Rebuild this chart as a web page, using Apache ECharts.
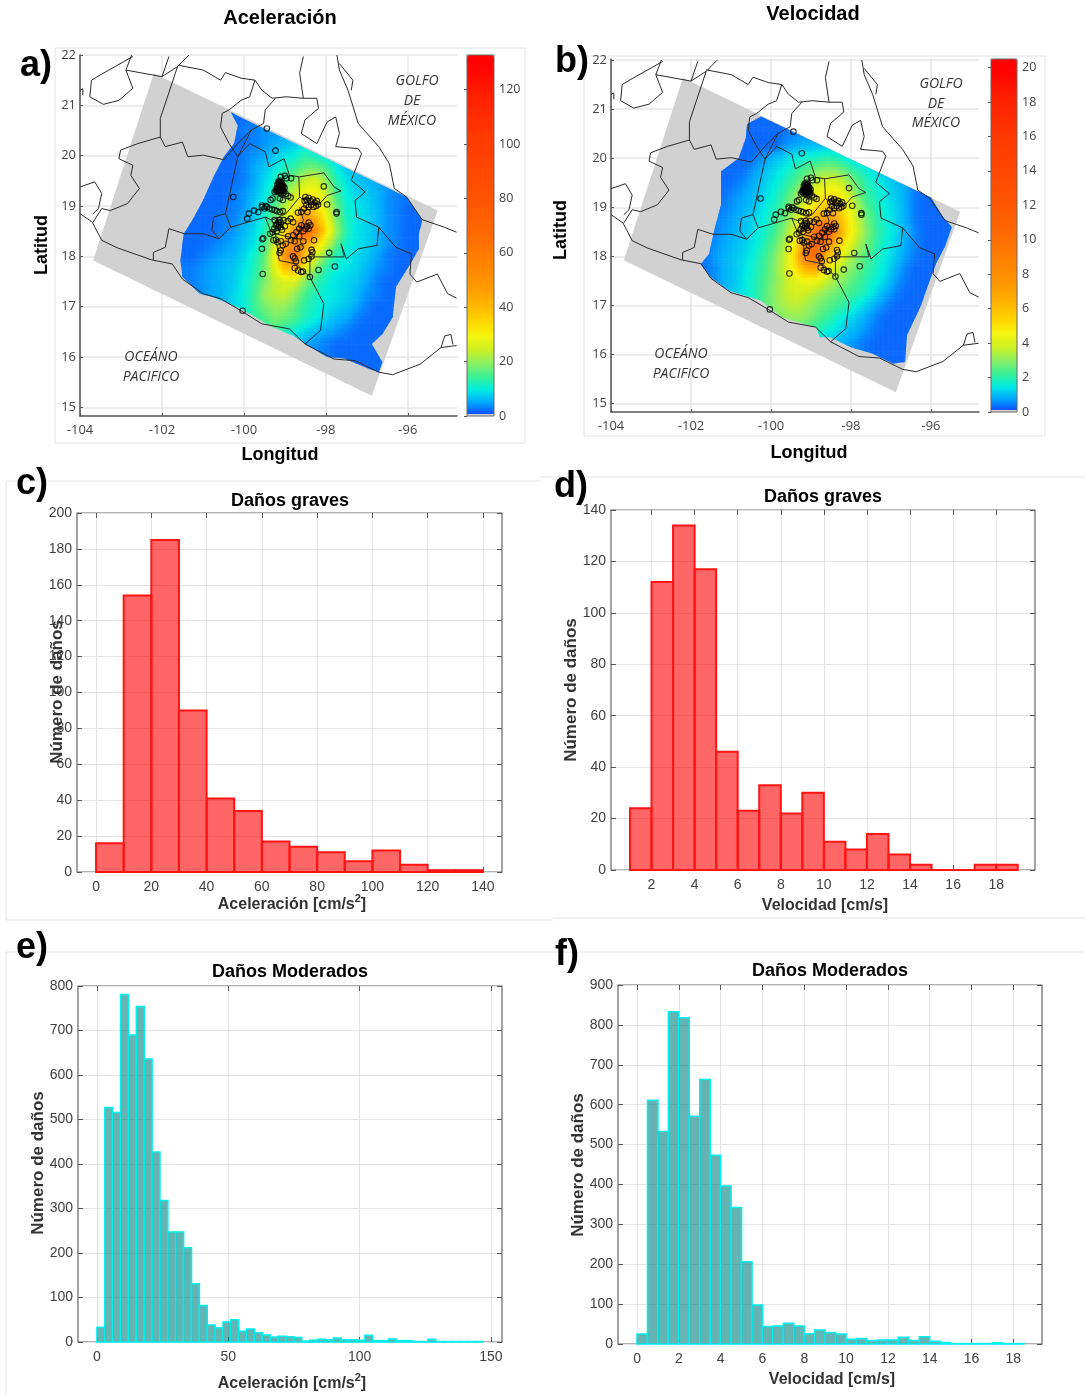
<!DOCTYPE html>
<html><head><meta charset="utf-8">
<style>html,body{margin:0;padding:0;background:#fff}#c{width:1085px;height:1395px}</style>
<script src="https://cdn.jsdelivr.net/npm/echarts@6/dist/echarts.min.js"></script>
</head><body><div id="c"></div>
<script>
// ---------- histogram data ----------
const graveAccStart = 0, graveAccWidth = 10;
const graveAcc = [16,154,185,90,41,34,17,14,11,6,12,4,1,1];
const graveVelStart = 1, graveVelWidth = 1;
const graveVel = [24,112,134,117,46,23,33,22,30,11,8,14,6,2,0,0,2,2];
const modAccStart = 0, modAccWidth = 3;
const modAcc = [33,527,516,781,690,754,636,427,318,247,247,212,131,82,38,32,45,50,24,29,21,16,11,13,12,10,2,4,6,5,9,5,5,4,15,3,3,7,3,3,1,1,6,1,1,1,1,1,1];
const modVelStart = 0, modVelWidth = 0.5;
const modVel = [25,611,533,833,818,571,663,473,396,342,206,98,44,45,52,45,26,35,29,25,12,14,9,10,10,17,9,18,7,4,1,1,1,1,3,1,1];
// ---------- tick labels ----------
const ticksLon = [-104,-102,-100,-98,-96];
const ticksLat = [15,16,17,18,19,20,21,22];
const ticksCbA = [0,20,40,60,80,100,120];
const ticksCbV = [0,2,4,6,8,10,12,14,16,18,20];
const ticksGraveAccX = [0,20,40,60,80,100,120,140];
const ticksGraveAccY = [0,20,40,60,80,100,120,140,160,180,200];
const ticksGraveVelX = [2,4,6,8,10,12,14,16,18];
const ticksGraveVelY = [0,20,40,60,80,100,120,140];
const ticksModAccX = [0,50,100,150];
const ticksModAccY = [0,100,200,300,400,500,600,700,800];
const ticksModVelX = [0,2,4,6,8,10,12,14,16,18];
const ticksModVelY = [0,100,200,300,400,500,600,700,800,900];
// ---------- map data (lon, lat) ----------
const swath = [[-102.2,21.64],[-95.27,18.91],[-96.88,15.23],[-103.68,17.92]];
const shakeAreaA = [[-100.15,20.79],[-96.03,19.18],[-95.65,18.72],[-95.73,18.45],[-95.73,18.15],[-95.94,17.85],[-96.29,17.39],[-96.37,16.79],[-96.62,16.46],[-96.88,16.26],[-96.62,15.9],[-96.71,15.7],[-96.96,15.77],[-97.55,15.97],[-97.97,16.0],[-98.51,16.26],[-98.8,16.43],[-99.31,16.6],[-100.07,16.96],[-100.74,17.19],[-101.08,17.26],[-101.5,17.59],[-101.55,17.92],[-101.47,18.45],[-101.26,18.72],[-101.0,19.11],[-100.74,19.58],[-100.49,19.98],[-100.24,20.24],[-100.15,20.6],[-100.32,20.87]];
const shakeAreaV = [[-100.25,20.85],[-96.0,19.2],[-95.7,18.8],[-95.48,18.6],[-95.65,18.2],[-95.87,17.86],[-96.08,17.4],[-96.25,17.0],[-96.6,16.4],[-96.65,15.85],[-96.95,15.82],[-97.47,16.02],[-98.0,16.15],[-98.52,16.35],[-98.78,16.35],[-98.87,16.55],[-99.73,16.76],[-100.25,17.1],[-101.05,17.3],[-101.5,17.57],[-101.76,17.84],[-101.55,18.05],[-101.42,18.53],[-101.25,19.05],[-101.25,19.73],[-100.81,20.0],[-100.63,20.41],[-100.6,20.69]];
const latRows = [20.75,20.5,20.25,20,19.75,19.5,19.25,19,18.75,18.5,18.25,18,17.75,17.5,17.25,17,16.75,16.5,16.25,16,15.75];
const lonColsA = [-102,-101.75,-101.5,-101.25,-101,-100.75,-100.5,-100.25,-100,-99.75,-99.5,-99.25,-99,-98.75,-98.5,-98.25,-98,-97.75,-97.5,-97.25,-97,-96.75,-96.5,-96.25,-96,-95.75,-95.5];
const lonColsV = [-101.875,-101.625,-101.375,-101.125,-100.875,-100.625,-100.375,-100.125,-99.875,-99.625,-99.375,-99.125,-98.875,-98.625,-98.375,-98.125,-97.875,-97.625,-97.375,-97.125,-96.875,-96.625,-96.375,-96.125,-95.875,-95.625,-95.375];
const accField = [
[2,2,2,2,2,2,2,2,2,3,3,3,3,3,3,3,3,3,3,3,3,3,3,3,3,3,3],
[2,2,2,2,2,2,2,2,3,3,4,4,4,5,5,5,5,5,5,5,5,5,5,5,5,5,5],
[2,2,2,2,2,2,2,2,2,3,4,5,6,7,8,8,7,7,7,7,7,6,6,6,6,6,6],
[2,2,2,2,2,2,2,2,3,4,5,7,9,10,13,11,9,8,7,7,6,6,5,5,5,5,5],
[2,2,2,2,2,2,2,2,3,5,7,9,12,14,17,18,15,10,7,6,5,4,4,3,3,3,3],
[2,2,2,2,2,2,2,2,3,5,8,11,15,19,24,26,20,13,9,7,6,5,4,3,3,3,3],
[2,2,2,2,2,2,2,3,4,6,9,13,19,24,30,30,24,15,10,8,7,6,4,3,3,2,2],
[2,2,2,2,2,2,2,3,4,7,10,15,22,28,36,34,26,17,11,9,8,6,4,3,2,2,2],
[2,2,2,2,2,2,3,3,5,7,11,17,26,34,48,42,30,19,12,9,8,6,4,3,2,2,2],
[2,2,2,2,2,2,3,4,6,8,12,19,32,50,72,52,34,21,13,9,8,6,4,3,2,2,2],
[2,2,2,2,2,3,4,5,7,9,14,24,42,55,44,36,26,17,11,9,8,6,4,3,2,2,2],
[2,2,2,2,3,4,5,6,8,11,16,28,50,62,38,26,18,12,10,8,7,5,3,2,2,2,2],
[2,2,3,3,4,5,6,7,9,12,17,26,38,40,28,19,13,10,9,8,6,4,3,2,2,2,2],
[2,2,3,3,4,5,6,7,10,13,18,23,26,26,19,14,11,9,8,7,5,3,2,2,2,2,2],
[2,3,3,3,4,5,6,8,10,14,20,23,24,20,15,12,10,9,8,6,4,3,2,2,2,2,2],
[2,3,3,3,4,5,6,8,10,14,18,20,20,17,13,11,9,8,7,5,3,2,2,2,2,2,2],
[2,3,3,3,4,5,6,8,10,13,15,18,17,15,12,10,8,6,5,3,2,2,2,2,2,2,2],
[2,3,3,3,4,5,6,8,9,10,12,14,12,10,8,6,5,4,3,2,2,2,2,2,2,2,2],
[2,3,3,3,4,5,6,6,8,9,9,8,7,6,5,4,3,2,2,2,2,2,2,2,2,2,2],
[2,3,3,3,3,4,5,5,6,6,6,5,5,4,4,3,3,2,2,2,2,2,2,2,2,2,2],
[2,2,2,2,2,2,2,2,2,2,2,2,2,2,2,2,2,2,2,2,2,2,2,2,2,2,2]];
const velField = [
[.3,.3,.3,.3,.3,.3,.3,.3,.3,.3,.3,.3,.3,.3,.3,.3,.3,.3,.3,.3,.3,.3,.3,.3,.3,.3,.3],
[.3,.3,.3,.3,.3,.3,.3,.3,.3,.4,.5,.6,.6,.6,.6,.6,.6,.6,.6,.6,.6,.6,.6,.6,.6,.6,.6],
[.3,.3,.3,.3,.3,.3,.3,.3,.3,.6,.8,.9,1,1,1,1,1,1,1,1,1,1,1,1,1,1,1],
[.3,.3,.3,.3,.3,.3,.4,.7,1,1.2,1.5,1.7,1.8,2,1.9,1.5,1.2,1,1,.9,.9,.8,.8,.8,.8,.8,.8],
[.3,.3,.3,.3,.3,.4,.7,1,1.3,1.6,2,2.4,2.8,3,3,2.5,2,1.6,1.3,1,.8,.7,.6,.5,.5,.5,.5],
[.3,.3,.3,.3,.4,.6,.9,1.2,1.5,1.9,2.4,3,3.5,4,4,3.4,2.6,2,1.6,1.3,1,.8,.4,.3,.3,.3,.3],
[.3,.3,.3,.4,.6,.8,1,1.3,1.7,2.2,3,3.8,4.5,5,5,4.2,3,2.2,1.8,1.4,1.1,.8,.4,.3,.3,.3,.3],
[.3,.3,.4,.5,.7,.9,1.1,1.5,1.9,2.5,3.3,4.3,5.2,5.6,5.6,4.8,3.5,2.5,1.9,1.5,1.2,.8,.4,.3,.3,.3,.3],
[.3,.3,.5,.6,.8,1,1.3,1.6,2.1,2.8,3.7,5,6.5,7.5,6.8,5.2,3.9,2.8,2.1,1.6,1.2,.8,.4,.3,.3,.3,.3],
[.3,.4,.5,.7,.9,1.1,1.4,1.8,2.3,3.1,4.2,6,10,12.5,8,5.5,4,3,2.2,1.7,1.3,.9,.5,.3,.3,.3,.3],
[.3,.4,.6,.8,1,1.2,1.5,2,2.6,3.5,5,7.5,10.5,8.5,6,4.8,3.6,2.8,2.1,1.6,1.2,.8,.5,.3,.3,.3,.3],
[.3,.4,.7,.9,1.1,1.3,1.7,2.2,2.9,3.8,5.5,9,10.5,6.5,4.8,3.8,3,2.4,1.9,1.5,1.1,.7,.4,.3,.3,.3,.3],
[.3,.4,.6,.9,1.1,1.4,1.8,2.3,3,3.9,5,6.5,7,5,3.9,3.2,2.7,2.2,1.8,1.4,.9,.5,.3,.3,.3,.3,.3],
[.3,.4,.6,.9,1.1,1.5,1.9,2.4,3,3.6,4.2,4.5,4.4,3.8,3.2,2.8,2.4,2,1.6,1.2,.7,.4,.3,.3,.3,.3,.3],
[.3,.4,.6,.9,1.2,1.5,1.9,2.5,3.1,3.6,3.9,3.8,3.4,3,2.7,2.4,2.1,1.8,1.3,.8,.5,.3,.3,.3,.3,.3,.3],
[.3,.4,.6,.9,1.2,1.5,1.9,2.5,3,3.4,3.6,3.3,2.9,2.6,2.3,2,1.6,1.2,.8,.5,.3,.3,.3,.3,.3,.3,.3],
[.3,.4,.6,.9,1.2,1.5,1.9,2.4,2.8,3,3.1,3,2.6,2.2,1.8,1.4,1.1,.8,.5,.3,.3,.3,.3,.3,.3,.3,.3],
[.3,.4,.6,.9,1.2,1.5,1.8,2.2,2.4,2.6,2.5,2.3,2,1.7,1.4,1.1,.9,.6,.4,.3,.3,.3,.3,.3,.3,.3,.3],
[.3,.4,.6,.9,1.1,1.3,1.5,1.7,1.8,1.8,1.7,1.5,1.3,1.1,1,.8,.6,.4,.3,.3,.3,.3,.3,.3,.3,.3,.3],
[.3,.4,.5,.7,.8,.9,1,1,1,1,1,.9,.8,.8,.7,.6,.5,.4,.3,.3,.3,.3,.3,.3,.3,.3,.3],
[.3,.3,.3,.3,.3,.3,.3,.3,.3,.3,.3,.3,.3,.3,.3,.3,.3,.3,.3,.3,.3,.3,.3,.3,.3,.3,.3]];
const stations = [[-99.44,20.54],[-99.23,20.1],[-100.26,19.18],[-98.05,19.39],[-97.74,18.85],[-97.74,18.88],[-97.78,17.8],[-98.18,17.73],[-97.92,18.07],[-99.54,17.65],[-99.56,18.15],[-99.55,18.34],[-99.53,18.36],[-98.39,17.59],[-100.03,16.92],[-97.97,19.03],[-98.29,18.32],
[-99.92,18.75],[-99.88,18.85],[-99.75,18.91],[-99.65,18.88],[-99.56,19.01],[-99.5,18.95],[-99.44,18.98],[-99.38,18.95],[-99.31,18.93],[-99.25,18.92],[-99.2,18.9],[-99.12,18.88],[-99.05,18.9],[-99.55,18.98],[-99.47,19.0],
[-99.18,19.43],[-99.14,19.45],[-99.1,19.47],[-99.07,19.42],[-99.15,19.38],[-99.2,19.35],[-99.12,19.36],[-99.09,19.37],[-99.05,19.34],[-99.16,19.32],[-99.11,19.31],[-99.07,19.29],[-99.02,19.3],[-99.13,19.27],[-99.09,19.24],[-99.22,19.31],[-99.25,19.28],[-99.18,19.28],[-99.14,19.41],[-99.1,19.41],[-99.06,19.38],[-99.16,19.35],[-99.13,19.33],[-99.1,19.34],[-99.07,19.32],[-99.19,19.31],[-99.04,19.26],[-98.98,19.24],[-98.92,19.2],[-98.86,19.17],[-99.0,19.6],[-98.96,19.55],[-99.1,19.58],[-98.85,19.55],[-99.3,19.15],[-99.35,19.12],[-99.12,19.15],[-99.05,19.12],[-99.16,19.48],[-99.12,19.5],[-99.08,19.46],[-99.04,19.4],[-99.01,19.36],
[-98.5,19.18],[-98.47,19.12],[-98.42,19.16],[-98.37,19.1],[-98.32,19.13],[-98.27,19.07],[-98.22,19.1],[-98.19,19.03],[-98.24,19.0],[-98.3,18.98],[-98.36,19.02],[-98.42,18.98],[-98.48,19.02],[-98.53,18.95],[-98.6,18.88],[-98.68,18.87],[-98.45,18.88],[-98.52,19.1],
[-99.13,18.72],[-99.16,18.68],[-99.19,18.64],[-99.14,18.62],[-99.1,18.58],[-99.17,18.57],[-99.22,18.62],[-99.26,18.55],[-99.3,18.48],[-99.2,18.5],[-99.07,18.53],[-99.0,18.6],[-98.93,18.7],[-98.86,18.75],[-98.8,18.68],[-99.03,18.72],[-99.1,18.67],[-99.25,18.72],[-99.36,18.45],
[-98.42,18.67],[-98.38,18.62],[-98.46,18.6],[-98.5,18.55],[-98.42,18.55],[-98.55,18.5],[-98.6,18.62],[-98.65,18.55],[-98.72,18.48],[-98.8,18.42],[-98.65,18.4],[-98.55,18.3],[-98.76,18.3],[-98.85,18.32],[-98.92,18.4],[-98.98,18.25],[-99.05,18.22],[-99.1,18.3],[-99.22,18.33],[-99.18,18.28],[-99.28,18.32],[-99.13,18.07],[-99.1,18.12],
[-98.8,18.0],[-98.76,17.96],[-98.73,17.9],[-98.76,17.77],[-98.68,17.72],[-98.56,17.7],[-98.6,17.69],[-98.53,17.92],[-98.42,17.95],[-98.35,18.0],[-98.33,18.08],[-98.35,18.13],[-98.7,18.15],[-98.62,18.18]];
const borders = [
[[-102.71,21.97],[-103.47,21.62],[-103.72,21.5],[-103.76,21.17],[-103.43,21.02],[-103.05,21.1],[-102.71,21.34],[-102.88,21.7],[-102.74,22]],
[[-102.88,21.7],[-102,21.57],[-101.83,21.97]],
[[-102,21.57],[-101.62,21.77],[-101.34,22]],
[[-101.62,21.8],[-100.99,21.7],[-100.57,21.5],[-100.45,21.65],[-100.07,21.54],[-99.73,21.5],[-99.56,21.3],[-99.31,21.14],[-98.97,21.17],[-98.55,21.14],[-98.22,21.14],[-98.18,20.94],[-98.51,20.71],[-98.6,20.44],[-98.22,20.24],[-97.97,20.67],[-97.76,20.77],[-97.67,20.44],[-97.76,20.18],[-97.21,20.14],[-97.13,20.04],[-97.38,19.51],[-97.04,19.28],[-97.29,19.11],[-97.25,18.78],[-96.71,18.58],[-96.29,18.18],[-95.91,18.05],[-95.95,17.65],[-95.78,17.49],[-95.28,17.65],[-95.03,17.26],[-94.81,17.17]],
[[-98.55,21.97],[-98.64,21.64],[-98.55,21.14]],
[[-99.23,21.14],[-99.48,20.91],[-99.52,20.64],[-99.82,20.51],[-100.15,19.98],[-100.45,18.85],[-100.74,18.78],[-100.78,18.52],[-100.61,18.35],[-100.99,18.45],[-101.45,18.45],[-101.83,18.55],[-101.92,18.18],[-102.21,18.08],[-102.21,17.93]],
[[-100.15,19.98],[-100.36,20.24],[-100.57,20.57],[-100.53,20.84],[-100.36,20.91],[-100.07,21.1],[-99.86,21.17],[-99.73,21.5]],
[[-101.62,21.77],[-102.04,20.74],[-102.04,20.37],[-101.92,20.18],[-101.5,20.27],[-101.37,19.98],[-100.99,20.01],[-100.49,19.92],[-100.15,20.24],[-99.82,20.51]],
[[-102.04,20.37],[-102.59,20.24],[-103.01,20.11],[-103.05,19.94],[-102.71,19.81],[-102.76,19.61],[-102.55,19.35],[-102.84,19.05],[-103.26,18.91],[-103.47,18.95],[-103.68,18.68]],
[[-104,19.38],[-103.64,19.48],[-103.47,19.25],[-103.55,18.95],[-103.68,18.85]],
[[-100.15,19.98],[-99.86,20.24],[-99.48,20.08],[-99.39,19.78],[-99.02,19.94],[-98.89,19.61],[-98.64,19.58],[-98.05,19.66],[-97.8,19.38],[-97.63,19.3],[-97.97,19.21],[-98.18,19.02],[-98.43,19.05],[-98.64,19.18],[-98.66,19.58]],
[[-100.45,18.85],[-100.32,18.58],[-99.9,18.68],[-99.48,18.78],[-99.31,18.72],[-98.97,18.85],[-98.64,19.18]],
[[-99.48,18.78],[-99.35,18.51],[-99.23,18.45],[-98.72,18.35],[-98.55,18.72],[-98.64,18.98]],
[[-100.61,18.35],[-100.32,18.58]],
[[-99.23,18.45],[-99.14,17.92],[-98.72,17.85],[-98.39,17.59],[-98.05,17.06],[-98.13,16.53],[-98.51,16.26]],
[[-98.39,17.59],[-98.39,17.99],[-97.55,17.99],[-97.63,18.25],[-97.5,17.95],[-97.21,18.15],[-96.75,18.22],[-96.71,18.58]],
[[-104,21.3],[-103.93,21.33],[-103.93,21.2]],
[[-104,18.85],[-103.7,18.68],[-103.47,18.32],[-103.09,18.17],[-102.25,17.93],[-101.75,17.85],[-101.5,17.55],[-101,17.26],[-100.57,17.16],[-100.07,16.92],[-99.56,16.66],[-98.89,16.56],[-98.51,16.26],[-97.8,15.96],[-97.29,15.93],[-96.71,15.7],[-96.37,15.65],[-95.7,15.86],[-95.19,16.19],[-94.81,16.23]],
[[-97.73,22],[-97.67,21.7],[-97.46,21.3],[-97.21,20.64],[-96.71,20.18],[-96.45,19.84],[-96.33,19.35],[-96.03,19.18],[-95.65,18.73],[-95.11,18.58],[-94.81,18.48]],
[[-97.67,21.83],[-97.34,21.5],[-97.38,21.3]],
[[-95.19,16.19],[-95.1,16.42],[-94.95,16.45],[-94.9,16.25]]
];
const jet = ['#1040ff','#00a8ff','#00f0e0','#40f090','#90f060','#d0f020','#f5f510','#ffd800','#ffbe00','#ffa600','#ff9400','#ff8800','#ff7c00','#ff7000','#ff6600','#ff5e00','#ff5600','#ff5000','#ff4a00','#ff4400','#ff3e00','#ff3800','#ff3000','#ff2800','#ff2000','#ff1200','#ff0400','#ff0000'];

// ---------- layout ----------
const SANS = '"Liberation Sans",Arial,sans-serif', OPEN = '"Open Sans",sans-serif';
const maps = [
 {box:[80,55,457,416], lim:[-104,-94.8,14.83,22], cb:[467,55,494,416], cbMax:132.7, cbTicks:ticksCbA, field:accField, lons:lonColsA, area:shakeAreaA},
 {box:[611,59,979,412], lim:[-104,-94.8,14.83,22.02], cb:[991,59,1017,412], cbMax:20.5, cbTicks:ticksCbV, field:velField, lons:lonColsV, area:shakeAreaV}
];
const hists = [
 {box:[77,513,502,872], xlim:[-6.9,146.9], ylim:[0,200], xt:ticksGraveAccX, yt:ticksGraveAccY, vals:graveAcc, s:graveAccStart, w:graveAccWidth, fill:'rgba(255,0,0,0.6)', edge:'#ff1414', lw:2},
 {box:[611,510,1035,870], xlim:[0.12,19.8], ylim:[0,140], xt:ticksGraveVelX, yt:ticksGraveVelY, vals:graveVel, s:graveVelStart, w:graveVelWidth, fill:'rgba(255,0,0,0.6)', edge:'#ff1414', lw:2},
 {box:[78,986,502,1342], xlim:[-7.2,154.2], ylim:[0,800], xt:ticksModAccX, yt:ticksModAccY, vals:modAcc, s:modAccStart, w:modAccWidth, fill:'rgba(0,128,128,0.6)', edge:'#00eeee', lw:1.5},
 {box:[618,985,1042,1344], xlim:[-0.91,19.37], ylim:[0,900], xt:ticksModVelX, yt:ticksModVelY, vals:modVel, s:modVelStart, w:modVelWidth, fill:'rgba(0,128,128,0.6)', edge:'#00eeee', lw:1.5}
];
const grids=[], xAxes=[], yAxes=[], series=[], visualMaps=[];
function gridOf(b, extra){ grids.push(Object.assign({left:b[0],top:b[1],width:b[2]-b[0],height:b[3]-b[1],containLabel:false},extra||{})); return grids.length-1; }
const lbl = (fs,col,fam)=>({show:true,fontSize:fs,color:col,fontFamily:fam,hideOverlap:false});
// display shading (like MATLAB "shading interp"): blends the table values across a cell when it is painted
function shade(m,lon,lat){
  const n=m.lons.length-1, k=latRows.length-1;
  const fx=Math.max(0,Math.min(n,(lon-m.lons[0])/0.25)), fy=Math.max(0,Math.min(k,(latRows[0]-lat)/0.25));
  const i=Math.min(n-1,Math.floor(fx)), j=Math.min(k-1,Math.floor(fy)), u=fx-i, v=fy-j, F=m.field;
  return (F[j][i]*(1-u)+F[j][i+1]*u)*(1-v)+(F[j+1][i]*(1-u)+F[j+1][i+1]*u)*v;
}
const SUB=4;

maps.forEach((m,mi)=>{
  const g = gridOf(m.box);
  const xi = xAxes.length, yi = yAxes.length;
  xAxes.push({type:'value',gridIndex:g,min:m.lim[0],max:m.lim[1],position:'bottom',
    axisLine:{show:true,onZero:false,lineStyle:{color:'#555',width:1.5}},
    axisTick:{show:true,inside:true,length:3,customValues:ticksLon,lineStyle:{color:'#555'}},
    axisLabel:Object.assign(lbl(13,'#444',OPEN),{customValues:ticksLon,margin:8}),
    splitLine:{show:true,lineStyle:{color:'#e6e6e6',width:1.5}}});
  yAxes.push({type:'value',gridIndex:g,min:m.lim[2],max:m.lim[3],
    axisLine:{show:true,onZero:false,lineStyle:{color:'#555',width:1.5}},
    axisTick:{show:true,inside:true,length:3,customValues:ticksLat,lineStyle:{color:'#555'}},
    axisLabel:Object.assign(lbl(13,'#444',OPEN),{customValues:ticksLat,margin:4}),
    splitLine:{show:true,lineStyle:{color:'#e6e6e6',width:1.5}}});
  series.push({type:'custom',xAxisIndex:xi,yAxisIndex:yi,z:2,silent:true,data:swath,clip:true,
    renderItem:(p,api)=> p.dataIndex===0 ? {type:'polygon',shape:{points:swath.map(c=>api.coord(c))},style:{fill:'#d1d1d1'}} : null});
  const cells=[];
  m.field.forEach((row,r)=>row.forEach((v,c)=>cells.push([m.lons[c],latRows[r],v])));
  const cellSeries = series.length;
  series.push({type:'custom',xAxisIndex:xi,yAxisIndex:yi,z:3,silent:true,data:cells,clip:true,encode:{x:0,y:1},
    renderItem:(p,api)=>{
      const lo=api.value(0), la=api.value(1), kids=[], st=0.25/SUB;
      for(let a=0;a<SUB;a++)for(let b=0;b<SUB;b++){
        const x0=lo-.125+a*st, y0=la+.125-b*st;
        const A=api.coord([x0,y0]), B=api.coord([x0+st,y0-st]);
        const f=Math.min(1,shade(m,x0+st/2,y0-st/2)/m.cbMax);
        kids.push({type:'rect',shape:{x:A[0]-.3,y:A[1]-.3,width:B[0]-A[0]+.6,height:B[1]-A[1]+.6},style:{fill:echarts.color.lerp(f,jet)}});
      }
      return {type:'group',children:kids,clipPath:{type:'polygon',shape:{points:m.area.map(q=>api.coord(q))}}};
    }});
  borders.forEach(b=>series.push({type:'line',xAxisIndex:xi,yAxisIndex:yi,z:4,silent:true,data:b,symbol:'none',animation:false,
    lineStyle:{color:'#2a2a2a',width:1},clip:true}));
  series.push({type:'scatter',xAxisIndex:xi,yAxisIndex:yi,z:5,silent:true,data:stations,symbolSize:5.5,
    itemStyle:{color:'rgba(0,0,0,0)',borderColor:'#000',borderWidth:1.1}});
  const gc = gridOf(m.cb);
  xAxes.push({type:'value',gridIndex:gc,min:0,max:1,show:false});
  yAxes.push({type:'value',gridIndex:gc,min:0,max:m.cbMax,position:'right',
    axisLine:{show:false},splitLine:{show:false},
    axisTick:{show:true,inside:true,length:3,customValues:m.cbTicks,lineStyle:{color:'#555'}},
    axisLabel:Object.assign(lbl(12.5,'#444',OPEN),{customValues:m.cbTicks,margin:5})});
  visualMaps.push({type:'continuous',seriesIndex:cellSeries,dimension:2,min:0,max:m.cbMax,inRange:{color:jet},calculable:false,
    left:m.cb[0],top:m.cb[1],itemWidth:m.cb[2]-m.cb[0],itemHeight:m.cb[3]-m.cb[1],padding:0,text:['',''],textGap:0,z:1,hoverLink:false,borderWidth:0});
});

hists.forEach(h=>{
  const g = gridOf(h.box,{show:true,borderColor:'#666',borderWidth:1.2,backgroundColor:'#fff'});
  const xi=xAxes.length, yi=yAxes.length;
  const tick=(vals)=>({show:true,inside:true,length:5,customValues:vals,lineStyle:{color:'#555'}});
  const sp={show:true,lineStyle:{color:'#e4e4e4',width:1}};
  xAxes.push({type:'value',gridIndex:g,min:h.xlim[0],max:h.xlim[1],position:'bottom',axisLine:{show:false,onZero:false},axisTick:tick(h.xt),
    axisLabel:Object.assign(lbl(14,'#404040',SANS),{customValues:h.xt,margin:8}),splitLine:sp});
  xAxes.push({type:'value',gridIndex:g,min:h.xlim[0],max:h.xlim[1],position:'top',axisLine:{show:false,onZero:false},axisTick:tick(h.xt),
    axisLabel:{show:false},splitLine:{show:false}});
  yAxes.push({type:'value',gridIndex:g,min:h.ylim[0],max:h.ylim[1],position:'left',axisLine:{show:false,onZero:false},axisTick:tick(h.yt),
    axisLabel:Object.assign(lbl(14,'#404040',SANS),{customValues:h.yt,margin:5}),splitLine:sp});
  yAxes.push({type:'value',gridIndex:g,min:h.ylim[0],max:h.ylim[1],position:'right',axisLine:{show:false,onZero:false},axisTick:tick(h.yt),
    axisLabel:{show:false},splitLine:{show:false}});
  series.push({type:'custom',xAxisIndex:xi,yAxisIndex:yi,z:3,silent:true,clip:false,
    data:h.vals.map((v,i)=>[h.s+i*h.w,h.s+(i+1)*h.w,v]),encode:{x:[0,1],y:2},
    renderItem:(p,api)=>{
      const a=api.coord([api.value(0),api.value(2)]), b=api.coord([api.value(1),0]);
      return {type:'rect',shape:{x:a[0],y:a[1],width:b[0]-a[0],height:b[1]-a[1]},style:{fill:h.fill,stroke:h.edge,lineWidth:h.lw}};
    }});
});

// ---------- texts ----------
function txt(text,x,y,o){ return {type:'text',x,y,z:20,silent:true,rotation:(o&&o.rot)||0,
  style:Object.assign({text,fill:'#000',font:`bold ${(o&&o.size)||18}px ${SANS}`,align:'center',verticalAlign:'middle'},(o&&o.style)||{})}; }
const rot=Math.PI/2;
const supName=(x,y)=>({type:'text',x,y,z:20,silent:true,style:{text:'{m|Aceleración [cm/s}{s|2}{m|]}',align:'center',verticalAlign:'middle',
  rich:{m:{font:`bold 16px ${SANS}`,fill:'#333',verticalAlign:'bottom',lineHeight:20},s:{font:`bold 11px ${SANS}`,fill:'#333',verticalAlign:'top',lineHeight:20,padding:[0,0,8,0]}}}});
const frame=(x1,y1,x2,y2)=>({type:'line',z:0,silent:true,shape:{x1,y1,x2,y2},style:{stroke:'#e4e4e4',lineWidth:1}});
const ital=(t,x,y)=>txt(t,x,y,{style:{font:`italic 14px ${OPEN}`,fill:'#333'}});
const cbBox=(b)=>[{type:'rect',z:10,silent:true,shape:{x:b[0],y:b[3]-2,width:b[2]-b[0],height:2},style:{fill:'#d1d1d1'}},
  {type:'rect',z:10,silent:true,shape:{x:b[0],y:b[1],width:b[2]-b[0],height:b[3]-b[1]},style:{fill:'none',stroke:'#666',lineWidth:1}}];
const graphic=[
 frame(55,48,525,48),frame(55,443,525,443),frame(55,48,55,443),frame(525,48,525,443),
 frame(584,56,1045,56),frame(584,436,1045,436),frame(584,56,584,436),frame(1045,56,1045,436),
 frame(6,481,540,481),frame(6,481,6,920),frame(6,920,553,920),
 frame(540,477,1085,477),frame(553,918,1085,918),
 frame(6,952,540,952),frame(6,952,6,1395),frame(540,952,1085,952),
 ...cbBox(maps[0].cb),...cbBox(maps[1].cb),
 txt('Aceleración',280,18,{size:20}),txt('Velocidad',813,14,{size:20}),
 txt('Longitud',280,455,{size:18}),txt('Longitud',809,453,{size:18}),
 txt('Latitud',42,245,{size:18,rot}),txt('Latitud',561,230,{size:18,rot}),
 txt('a)',36,66,{size:36}),txt('b)',572,62,{size:36}),txt('c)',32,484,{size:36}),txt('d)',571,487,{size:36}),txt('e)',32,948,{size:36}),txt('f)',567,955,{size:36}),
 txt('Daños graves',290,501),txt('Daños graves',823,497),txt('Daños Moderados',290,972),txt('Daños Moderados',830,971),
 supName(292,903),supName(292,1382),
 txt('Velocidad [cm/s]',825,906,{size:16,style:{fill:'#333'}}),txt('Velocidad [cm/s]',832,1380,{size:16,style:{fill:'#333'}}),
 txt('Número de daños',57,692,{size:17,rot,style:{fill:'#333'}}),txt('Número de daños',571,690,{size:17,rot,style:{fill:'#333'}}),
 txt('Número de daños',38,1163,{size:17,rot,style:{fill:'#333'}}),txt('Número de daños',578,1165,{size:17,rot,style:{fill:'#333'}}),
 ital('GOLFO',417,81),ital('DE',412,101),ital('MÉXICO',412,121),ital('OCEÁNO',151,357),ital('PACIFICO',151,377),
 ital('GOLFO',941,84),ital('DE',936,104),ital('MÉXICO',936,123),ital('OCEÁNO',681,354),ital('PACIFICO',681,374)
];
const chart = echarts.init(document.getElementById('c'),null,{renderer:'canvas'});
chart.setOption({animation:false,backgroundColor:'#fff',grid:grids,xAxis:xAxes,yAxis:yAxes,series,visualMap:visualMaps,graphic});
</script></body></html>
